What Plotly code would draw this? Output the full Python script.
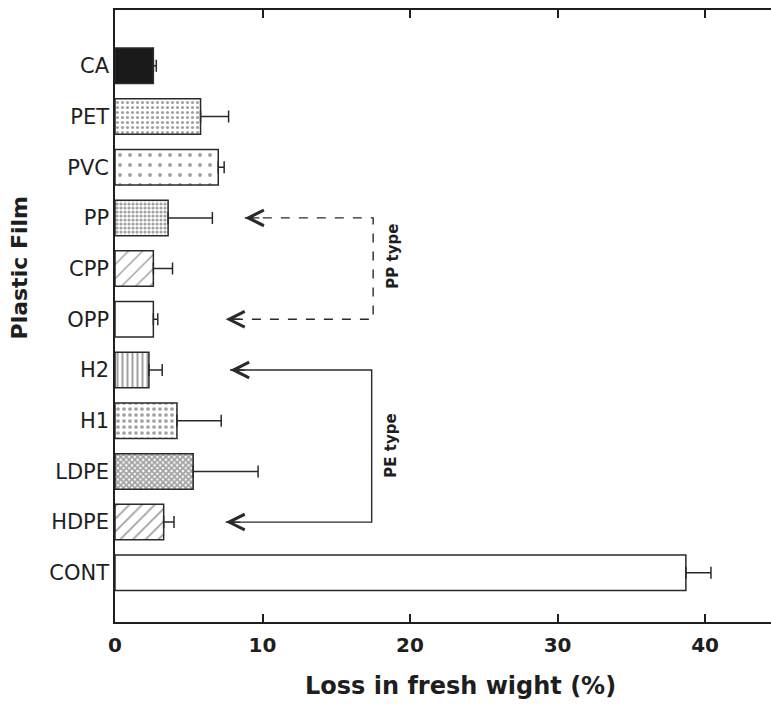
import plotly.graph_objects as go

# Fresh-weight loss per packaging film (mean and upper error)
films = ["CA", "PET", "PVC", "PP", "CPP", "OPP", "H2", "H1", "LDPE", "HDPE", "CONT"]
loss = [2.6, 5.8, 7.0, 3.6, 2.6, 2.6, 2.3, 4.2, 5.3, 3.3, 38.7]
loss_err = [0.2, 1.9, 0.4, 3.0, 1.3, 0.3, 0.9, 3.0, 4.4, 0.7, 1.7]

# Fill styles for each film bar
fill_color = ["#1a1a1a", "white", "white", "white", "white", "white",
              "white", "white", "white", "white", "white"]
pattern_shape = ["", ".", ".", ".", "/", "", "|", ".", "x", "/", ""]
pattern_size = [6, 5, 10, 4, 10, 6, 5, 6, 4, 9, 6]
pattern_solidity = [0.3, 0.3, 0.12, 0.5, 0.15, 0.3, 0.4, 0.3, 0.7, 0.2, 0.3]

# Film-type groupings shown as brackets with arrows
group_labels = ["PP type", "PE type"]
group_top = ["PP", "H2"]
group_bottom = ["OPP", "HDPE"]
tip_top = [8.8, 7.8]
tip_bottom = [7.5, 7.5]
bracket_x = [17.5, 17.4]
bracket_dash = ["dash", "solid"]
label_yshift = [12, 0]

tick_vals_x = [0, 10, 20, 30, 40]

n = len(films)
ypos = [n - 1 - i for i in range(n)]
pos_of = dict(zip(films, ypos))

ink = "#1e1e1e"
font_family = "DejaVu Sans, Verdana, sans-serif"

fig = go.Figure()

fig.add_trace(go.Bar(
    x=loss,
    y=ypos,
    orientation="h",
    width=0.7,
    marker=dict(
        color=fill_color,
        line=dict(color="#2a2a2a", width=1.5),
        pattern=dict(
            shape=pattern_shape,
            size=pattern_size,
            solidity=pattern_solidity,
            fgcolor="#4a4a4a",
            fillmode="overlay",
        ),
    ),
    error_x=dict(
        type="data",
        symmetric=False,
        array=loss_err,
        arrayminus=[0] * n,
        color="#2a2a2a",
        thickness=1.5,
        width=6,
    ),
    showlegend=False,
    hoverinfo="skip",
))

annotations = []
for label, top, bot, t_top, t_bot, bx, dash, ysh in zip(
        group_labels, group_top, group_bottom, tip_top, tip_bottom,
        bracket_x, bracket_dash, label_yshift):
    y_top = pos_of[top]
    y_bot = pos_of[bot]
    fig.add_trace(go.Scatter(
        x=[t_top, bx, bx, t_bot],
        y=[y_top, y_top, y_bot, y_bot],
        mode="lines",
        line=dict(color="#2a2a2a", width=1.4, dash=dash),
        showlegend=False,
        hoverinfo="skip",
    ))
    for tip, yy in ((t_top, y_top), (t_bot, y_bot)):
        annotations.append(dict(
            x=tip, y=yy, xref="x", yref="y",
            ax=16, ay=0, text="",
            showarrow=True, arrowhead=5, arrowsize=2.2,
            arrowwidth=1.4, arrowcolor="#2a2a2a",
        ))
    annotations.append(dict(
        x=bx, y=(y_top + y_bot) / 2, xref="x", yref="y",
        text="<b>" + label + "</b>", textangle=-90, showarrow=False,
        xanchor="left", xshift=8, yshift=ysh,
        font=dict(family=font_family, size=15, color=ink),
    ))

# Axis titles
annotations.append(dict(
    x=0.526, y=-0.104, xref="paper", yref="paper",
    text="<b>Loss in fresh wight (%)</b>", showarrow=False,
    xanchor="center", yanchor="middle",
    font=dict(family=font_family, size=24, color=ink),
))
annotations.append(dict(
    x=-0.146, y=0.578, xref="paper", yref="paper",
    text="<b>Plastic Film</b>", showarrow=False, textangle=-90,
    xanchor="center", yanchor="middle",
    font=dict(family=font_family, size=22, color=ink),
))

fig.update_layout(
    width=771,
    height=704,
    margin=dict(l=115, r=0, t=10, b=82),
    paper_bgcolor="white",
    plot_bgcolor="white",
    annotations=annotations,
    bargap=0.3,
    xaxis=dict(
        range=[0, 44.47],
        tickvals=tick_vals_x,
        ticks="inside",
        ticklen=8,
        tickwidth=1.5,
        tickcolor=ink,
        showline=True,
        linecolor=ink,
        linewidth=1.5,
        mirror="ticks",
        showgrid=False,
        zeroline=False,
        ticklabelstandoff=4,
        tickfont=dict(family=font_family, size=20, color=ink, weight="bold"),
    ),
    yaxis=dict(
        range=[-0.97, 11.1],
        tickvals=ypos,
        ticktext=films,
        ticks="",
        showline=True,
        linecolor=ink,
        linewidth=1.5,
        mirror=False,
        showgrid=False,
        zeroline=False,
        tickfont=dict(family=font_family, size=21, color=ink),
    ),
)

fig.write_html("out.html")
